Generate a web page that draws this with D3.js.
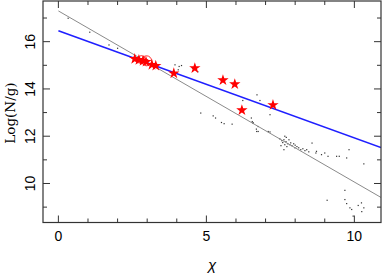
<!DOCTYPE html>
<html>
<head>
<meta charset="utf-8">
<script src="https://cdn.jsdelivr.net/npm/d3@7"></script>
<style>
body { margin: 0; background: #fff; }
svg { display: block; }
</style>
</head>
<body>
<svg></svg>
<script>
// red stars (chi, log N/g)
let starX = [2.58, 2.72, 2.86, 2.96, 3.16, 3.29, 3.9, 4.61, 5.56, 5.96, 6.2, 7.25];
let starY = [15.27, 15.23, 15.19, 15.15, 15.02, 14.98, 14.66, 14.88, 14.37, 14.2, 13.1, 13.32];

// open circles in the cluster
let circX = [2.98, 2.8];
let circY = [15.19, 15.24];

// small black points
let dotX = [0.33, 1.06, 1.71, 2.0, 3.94, 4.08, 4.05, 4.16, 4.53, 4.71, 6.71, 6.81, 6.23, 7.15,
    4.81, 5.23, 5.31, 5.51, 5.6, 5.87, 6.55, 6.58, 6.75, 6.75, 7.15, 6.7, 7.09, 6.52, 6.58, 6.69, 7.65,
    7.48, 7.55, 7.58, 7.62, 7.65, 7.69, 7.72, 7.75, 7.79, 7.82, 7.89, 7.95, 7.99, 8.06, 8.12,
    8.19, 8.26, 8.33, 8.39, 8.46, 7.52, 7.62, 7.7, 7.85, 8.0,
    8.57, 8.7, 8.89, 9.0, 9.11, 9.4, 9.49, 9.74, 9.82, 10.32, 8.72,
    9.08, 9.68, 9.74, 9.85, 9.91, 10.13, 10.24, 10.32, 9.96, 9.68, 10.25];
let dotY = [16.99, 16.4, 15.86, 15.72, 15.02, 14.95, 14.81, 14.99, 14.88, 14.73, 13.75, 13.51, 13.51, 12.91,
    12.98, 12.86, 12.77, 12.58, 12.53, 12.51, 12.62, 12.56, 12.41, 12.2, 12.18, 12.2, 12.2, 12.77, 12.56, 12.3, 12.0,
    11.89, 11.81, 11.73, 11.85, 11.64, 11.77, 11.56, 11.68, 11.85, 11.64, 11.6, 11.68, 11.51, 11.56, 11.51,
    11.43, 11.47, 11.39, 11.43, 11.34, 11.6, 11.43, 11.95, 11.72, 11.62,
    11.71, 11.29, 11.22, 11.29, 11.15, 11.15, 11.15, 11.08, 11.43, 10.83, 11.36,
    9.29, 9.71, 9.15, 8.97, 8.9, 9.07, 9.18, 8.97, 8.62, 9.32, 8.81];

// fitted lines
let grayLine = [{x: 0, y: 17.3}, {x: 10.9, y: 9.41}];
let blueLine = [{x: 0, y: 16.46}, {x: 10.9, y: 11.52}];

// axis ticks
let xMajor = [0, 5, 10];
let xMinor = [1, 2, 3, 4, 6, 7, 8, 9];
let yMajor = [10, 12, 14, 16];
let yMinor = [9, 11, 13, 15, 17];

let width = 382;
let height = 273;

let svg = d3.select("svg")
    .attr("width", width)
    .attr("height", height);

let pLeft = 43, pRight = 381, pTop = 1, pBottom = 222.5;

let scaleX = d3.scaleLinear()
    .domain([-0.52, 10.9])
    .range([pLeft, pRight]);

let scaleY = d3.scaleLinear()
    .domain([8.35, 17.72])
    .range([pBottom, pTop]);

svg.append("clipPath")
    .attr("id", "clip")
    .append("rect")
    .attr("x", pLeft).attr("y", pTop)
    .attr("width", pRight - pLeft).attr("height", pBottom - pTop);

let plot = svg.append("g").attr("clip-path", "url(#clip)");

let lineF = d3.line()
    .x(d => scaleX(d.x))
    .y(d => scaleY(d.y));

// points
plot.selectAll(".dot")
    .data(dotX.map((x, i) => ({x: x, y: dotY[i]})))
    .enter().append("rect")
    .attr("x", d => scaleX(d.x) - 0.6)
    .attr("y", d => scaleY(d.y) - 0.6)
    .attr("width", 1.2)
    .attr("height", 1.2)
    .style("fill", "#333");

plot.append("path")
    .datum(grayLine)
    .attr("d", lineF)
    .style("fill", "none")
    .style("stroke", "#8a8a8a")
    .style("stroke-width", 1);

plot.append("path")
    .datum(blueLine)
    .attr("d", lineF)
    .style("fill", "none")
    .style("stroke", "#1f1fff")
    .style("stroke-width", 1.6);

// open circles
plot.selectAll(".circ")
    .data(circX.map((x, i) => ({x: x, y: circY[i]})))
    .enter().append("circle")
    .attr("cx", d => scaleX(d.x))
    .attr("cy", d => scaleY(d.y))
    .attr("r", (d, i) => i == 0 ? 5 : 4)
    .style("fill", "none")
    .style("stroke", "red")
    .style("stroke-width", 0.8);

// stars
let star = d3.symbol().type(d3.symbolStar).size(40);
plot.selectAll(".star")
    .data(starX.map((x, i) => ({x: x, y: starY[i]})))
    .enter().append("path")
    .attr("d", star)
    .attr("transform", d => `translate(${scaleX(d.x)}, ${scaleY(d.y)})`)
    .style("fill", "red");

// frame
svg.append("rect")
    .attr("x", pLeft).attr("y", pTop)
    .attr("width", pRight - pLeft).attr("height", pBottom - pTop)
    .style("fill", "none")
    .style("stroke", "#333")
    .style("stroke-width", 1.2);

// inward ticks on all four sides
let ticks = svg.append("g").style("stroke", "#333").style("stroke-width", 1);
function xTick(v, len) {
    ticks.append("line").attr("x1", scaleX(v)).attr("x2", scaleX(v)).attr("y1", pBottom).attr("y2", pBottom - len);
    ticks.append("line").attr("x1", scaleX(v)).attr("x2", scaleX(v)).attr("y1", pTop).attr("y2", pTop + len);
}
function yTick(v, len) {
    ticks.append("line").attr("y1", scaleY(v)).attr("y2", scaleY(v)).attr("x1", pLeft).attr("x2", pLeft + len);
    ticks.append("line").attr("y1", scaleY(v)).attr("y2", scaleY(v)).attr("x1", pRight).attr("x2", pRight - len);
}
xMajor.forEach(v => xTick(v, 7));
xMinor.forEach(v => xTick(v, 4));
yMajor.forEach(v => yTick(v, 7));
yMinor.forEach(v => yTick(v, 4));

// tick labels
svg.selectAll(".xl")
    .data(xMajor)
    .enter().append("text")
    .attr("x", d => scaleX(d))
    .attr("y", 241)
    .attr("text-anchor", "middle")
    .style("font-family", "Liberation Sans, Arial, sans-serif")
    .style("font-size", "14px")
    .text(d => d);

svg.selectAll(".yl")
    .data(yMajor)
    .enter().append("text")
    .attr("transform", d => `translate(35, ${scaleY(d)}) rotate(-90)`)
    .attr("text-anchor", "middle")
    .style("font-family", "Liberation Sans, Arial, sans-serif")
    .style("font-size", "14px")
    .text(d => d);

// axis titles
svg.append("text")
    .attr("x", 212)
    .attr("y", 270)
    .attr("text-anchor", "middle")
    .style("font-family", "Liberation Sans, Arial, sans-serif")
    .style("font-style", "italic")
    .style("font-size", "15px")
    .text("χ");

svg.append("text")
    .attr("transform", `translate(15, 113) rotate(-90)`)
    .attr("text-anchor", "middle")
    .style("font-family", "DejaVu Serif, serif")
    .style("font-size", "13.5px")
    .text("Log(N/g)");
</script>
</body>
</html>
